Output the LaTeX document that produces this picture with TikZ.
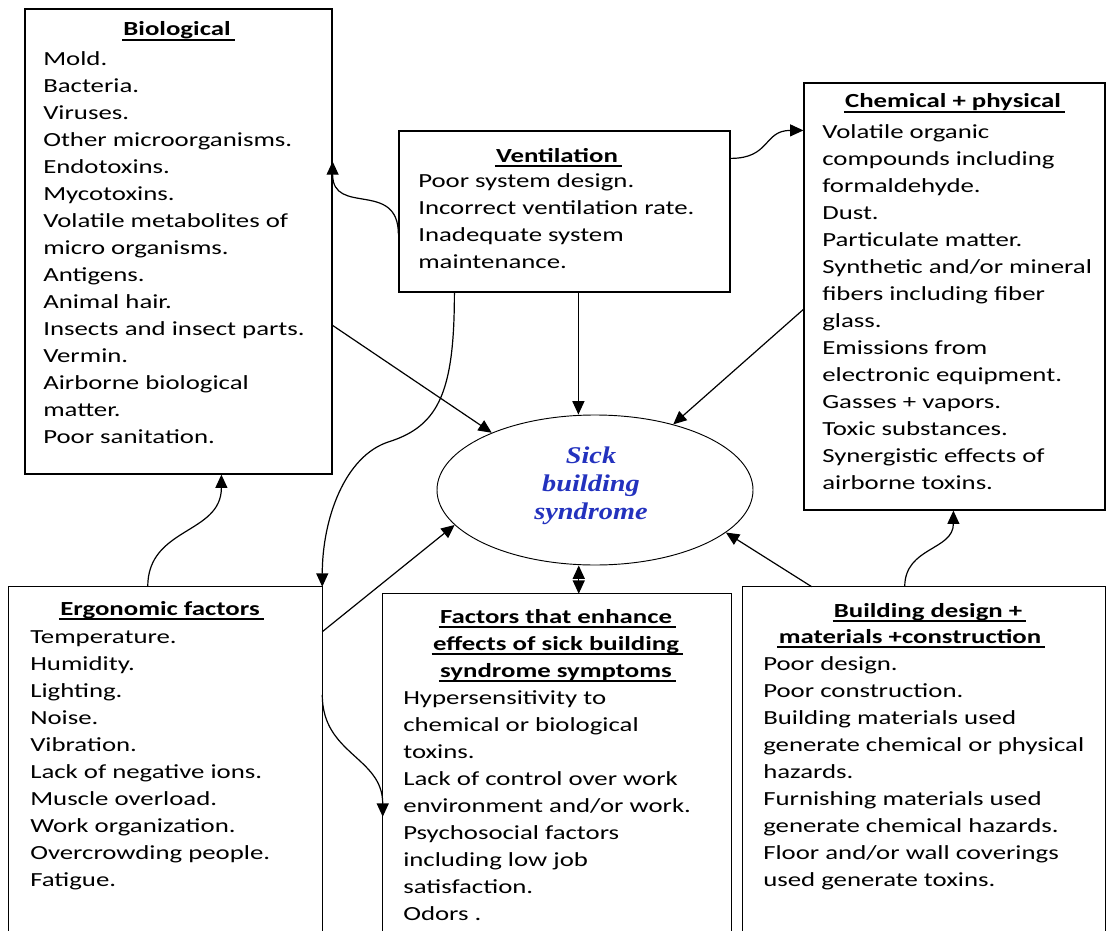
\documentclass[tikz,border=0pt]{standalone}
\usepackage{fontspec}
\setmainfont{Carlito}[FakeStretch=1.34]
\newfontfamily\sbsfont{Liberation Serif}[FakeStretch=1.18]
\usetikzlibrary{arrows.meta,shapes.geometric,calc,fit}
\definecolor{sbsblue}{RGB}{35,50,190}
\newcommand\myul[1]{\setbox0=\hbox{#1}\rlap{\kern-1pt\rule[-3.6pt]{\dimexpr\wd0+4pt\relax}{1.2pt}}\box0}
\tikzset{
  box/.style={draw, line width=0.9pt, inner sep=0pt},
  openbox/.style={inner sep=0pt},
  body/.style={inner sep=0pt, anchor=north west, align=left, font=\fontsize{15}{20.25}\selectfont},
  ttl/.style={inner sep=0pt, anchor=base, font=\bfseries\fontsize{15}{20.25}\selectfont},
  tip/.tip={Triangle[length=10pt,width=9pt]},
  conn/.style={line width=0.9pt, -tip},
}
\begin{document}
\begin{tikzpicture}[x=0.75pt,y=-0.75pt]
\useasboundingbox (0,0) rectangle (1106,931);
% boxes
\node[box, fit={(25,9) (332,474)}] (bio) {};
\node[box, fit={(399,131) (730,292)}] (vent) {};
\node[box, fit={(804,83) (1105,510)}] (chem) {};
\node[openbox, fit={(9,587) (322,931)}] (ergo) {};
\node[openbox, fit={(383,594) (731,931)}] (fact) {};
\node[openbox, fit={(743,587) (1105,931)}] (bld) {};
\draw[line width=0.9pt] (ergo.south west) -- (ergo.north west) -- (ergo.north east) -- (ergo.south east);
\draw[line width=0.9pt] (fact.south west) -- (fact.north west) -- (fact.north east) -- (fact.south east);
\draw[line width=0.9pt] (bld.south west) -- (bld.north west) -- (bld.north east) -- (bld.south east);
% ellipse
\node[draw, ellipse, line width=0.7pt, minimum width=237pt, minimum height=112.5pt, inner sep=0pt] (sbs) at (595,490) {};
\node[inner sep=0pt, anchor=north, align=center, text=sbsblue, font=\sbsfont\bfseries\itshape\fontsize{18}{21}\selectfont] (sbst) at (591,446) {\rule{0pt}{13pt}Sick\\building\\syndrome};
% titles
\node[ttl] (biot) at (177,36) {\myul{Biological}};
\node[ttl] (ventt) at (557,162) {\myul{Ventilation}};
\node[ttl] (chemt) at (953,108) {\myul{Chemical + physical}};
\node[ttl] (ergot) at (160,615) {\myul{Ergonomic factors}};
\node[inner sep=0pt, anchor=north, align=center, font=\bfseries\fontsize{15}{20.25}\selectfont] (factt) at (556,607) {\rule{0pt}{12pt}\myul{Factors that enhance}\\\myul{effects of sick building}\\\myul{syndrome symptoms}};
\node[ttl] (bldt1) at (928,617) {\myul{Building design +}};
\node[ttl] (bldt2) at (910,643) {\myul{materials +construction}};
% body texts
\node[body] (biob) at (43,49) {\rule{0pt}{12pt}Mold.\\Bacteria.\\Viruses.\\Other microorganisms.\\Endotoxins.\\Mycotoxins.\\Volatile metabolites of\\micro organisms.\\Antigens.\\Animal hair.\\Insects and insect parts.\\Vermin.\\Airborne biological\\matter.\\Poor sanitation.};
\node[body] (ventb) at (418,171) {\rule{0pt}{12pt}Poor system design.\\Incorrect ventilation rate.\\Inadequate system\\maintenance.};
\node[body] (chemb) at (822,122) {\rule{0pt}{12pt}Volatile organic\\compounds including\\formaldehyde.\\Dust.\\Particulate matter.\\Synthetic and/or mineral\\fibers including fiber\\glass.\\Emissions from\\electronic equipment.\\Gasses + vapors.\\Toxic substances.\\Synergistic effects of\\airborne toxins.};
\node[body] (ergob) at (30,627) {\rule{0pt}{12pt}Temperature.\\Humidity.\\Lighting.\\Noise.\\Vibration.\\Lack of negative ions.\\Muscle overload.\\Work organization.\\Overcrowding people.\\Fatigue.};
\node[body] (factb) at (403,688) {\rule{0pt}{12pt}Hypersensitivity to\\chemical or biological\\toxins.\\Lack of control over work\\environment and/or work.\\Psychosocial factors\\including low job\\satisfaction.\\Odors .};
\node[body] (bldb) at (763,654) {\rule{0pt}{12pt}Poor design.\\Poor construction.\\Building materials used\\generate chemical or physical\\hazards.\\Furnishing materials used\\generate chemical hazards.\\Floor and/or wall coverings\\used generate toxins.};
% connectors
\draw[conn] ($(vent.north west)+(0,104)$) .. controls +(0,-55) and +(0,55) .. ($(bio.north east)+(0,153)$);
\draw[conn] ($(vent.north east)+(0,28)$) .. controls +(40,0) and +(-40,0) .. ($(chem.north west)+(0,48)$);
\draw[conn] ($(vent.south west)+(56,0)$) .. controls +(0,98) and +(50,-16) .. ++(-65,149) .. controls +(-45,14) and +(0,-67) .. (ergo.north east);
\coordinate (v4) at ($(vent.south west)+(180,0)$);
\draw[conn] (v4) -- (v4 |- sbs.north);
\draw[conn] ($(bio.north east)+(0,317)$) -- (sbs.151);
\draw[conn] ($(chem.north west)+(0,227)$) -- (sbs.40);
\draw[conn] ($(ergo.north west)+(139,0)$) .. controls +(0,-60) and +(0,60) .. ($(bio.south west)+(197,0)$);
\draw[conn] ($(ergo.north east)+(0,45)$) -- (sbs.194);
\draw[conn] ($(ergo.north east)+(0,108)$) .. controls +(0,60) and +(0,-60) .. ($(fact.north west)+(0,223)$);
\coordinate (f10) at ($(fact.north west)+(196,0)$);
\draw[conn, tip-tip] (f10 |- sbs.south) -- (f10);
\draw[conn] ($(bld.north west)+(69,0)$) -- (sbs.342);
\draw[conn] ($(bld.north west)+(162,0)$) .. controls +(0,-40) and +(0,40) .. ($(chem.south west)+(150,0)$);
\end{tikzpicture}
\end{document}
